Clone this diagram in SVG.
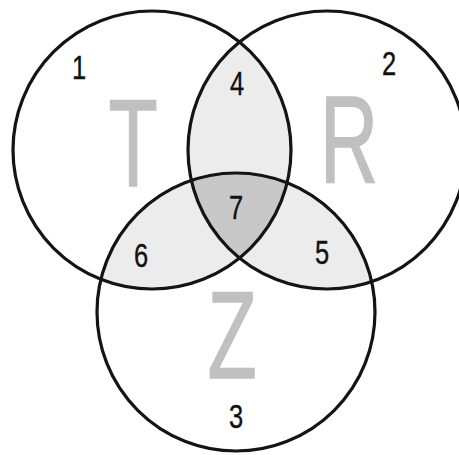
<svg xmlns="http://www.w3.org/2000/svg" width="459" height="455" viewBox="0 0 459 455">
<style>
.ring{fill:none;stroke:#141414;stroke-width:3.2}
.pair{fill:#ececec}
.triple{fill:#c8c8c8}
.num{font-family:"Liberation Sans",Arial,sans-serif;font-size:34px;fill:#111;text-anchor:middle;stroke:#111;stroke-width:0.4}
.big{font-family:"Liberation Sans",Arial,sans-serif;font-size:124px;fill:#c0c0c0;text-anchor:middle;stroke:#c0c0c0;stroke-width:1.5}
</style>
<defs>
<clipPath id="cT"><circle cx="152" cy="150" r="139"/></clipPath>
<clipPath id="cR"><circle cx="327" cy="150" r="139"/></clipPath>
<clipPath id="cZ"><circle cx="236" cy="312" r="139"/></clipPath>
</defs>
<rect width="459" height="455" fill="#fff"/>
<g id="fills">
<circle class="pair" cx="327" cy="150" r="139" clip-path="url(#cT)"/>
<circle class="pair" cx="236" cy="312" r="139" clip-path="url(#cT)"/>
<circle class="pair" cx="236" cy="312" r="139" clip-path="url(#cR)"/>
<g clip-path="url(#cT)"><circle class="triple" cx="236" cy="312" r="139" clip-path="url(#cR)"/></g>
</g>
<g id="set-T">
<circle class="ring" cx="152" cy="150" r="139"/>
<text class="big" transform="translate(133,186) scale(0.65,1)">T</text>
</g>
<g id="set-R">
<circle class="ring" cx="327" cy="150" r="139"/>
<text class="big" transform="translate(349,183) scale(0.65,1)">R</text>
</g>
<g id="set-Z">
<circle class="ring" cx="236" cy="312" r="139"/>
<text class="big" transform="translate(232,378) scale(0.65,1)">Z</text>
</g>
<g id="labels">
<text class="num" transform="translate(79,79) scale(0.75,1)">1</text>
<text class="num" transform="translate(389,75) scale(0.75,1)">2</text>
<text class="num" transform="translate(236,428) scale(0.75,1)">3</text>
<text class="num" transform="translate(237,95) scale(0.75,1)">4</text>
<text class="num" transform="translate(322,264) scale(0.75,1)">5</text>
<text class="num" transform="translate(141,267) scale(0.75,1)">6</text>
<text class="num" transform="translate(236,219) scale(0.75,1)">7</text>
</g>
</svg>
